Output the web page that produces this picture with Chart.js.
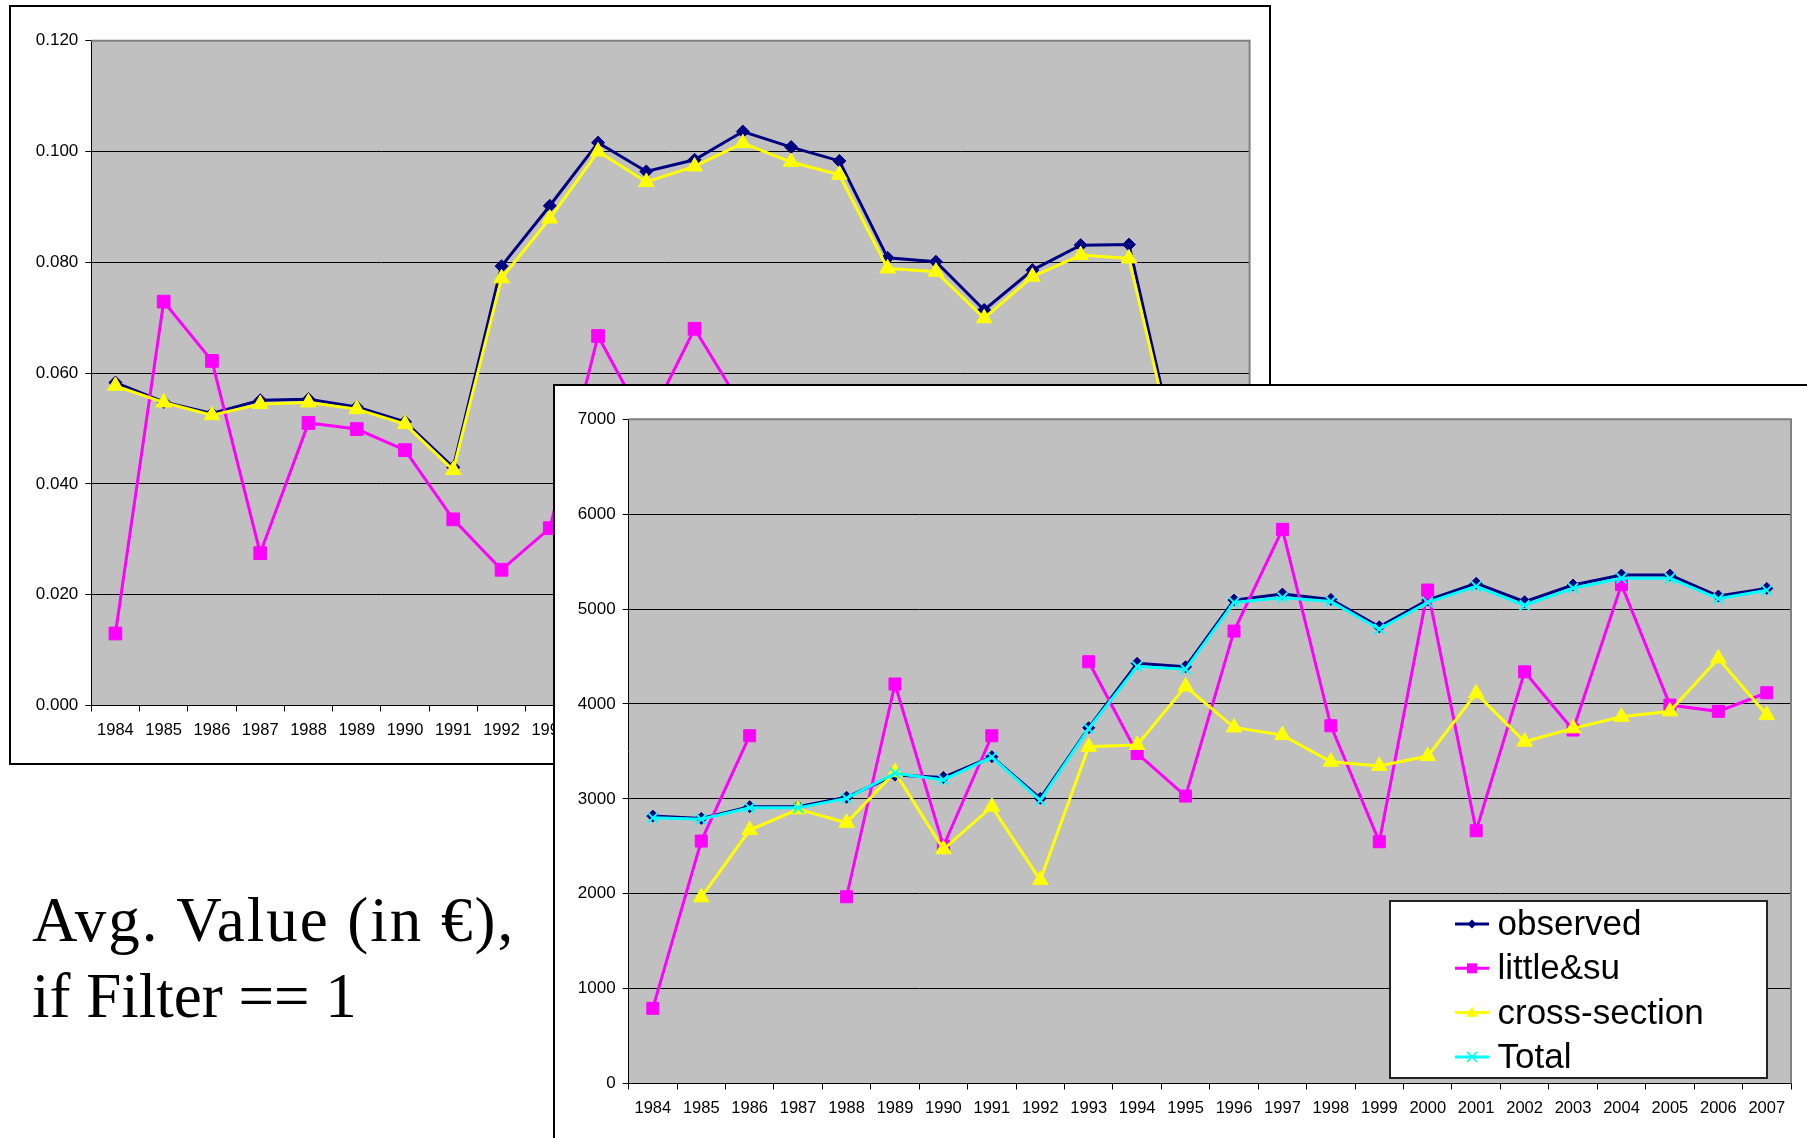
<!DOCTYPE html>
<html lang="en">
<head>
  <meta charset="UTF-8" />
  <title>Avg. Value (in €), if Filter == 1</title>
  <script src="https://cdn.jsdelivr.net/npm/chart.js@4"></script>
  <style>
    html, body { margin: 0; padding: 0; background: #fff; width: 1807px; height: 1138px; overflow: hidden; }
    .panel { position: absolute; background: #fff; }
    #backPanel { left: 9px; top: 5px; width: 1258px; height: 756px; border: 2px solid #000; z-index: 1; }
    #frontPanel { left: 553px; top: 384px; width: 1270px; height: 770px; border: 2px solid #000; z-index: 2; }
    canvas { display: block; }
    #caption {
      position: absolute; left: 32px; top: 882px; z-index: 0;
      font: 63px/76px "Liberation Serif", "Times New Roman", serif; color: #000; white-space: nowrap;
    }
    #caption .first { letter-spacing: 2px; }
  </style>
</head>
<body>

  <!-- back chart (share, 0.000 - 0.120) -->
  <div class="panel" id="backPanel"><canvas id="backChart" width="1258" height="756"></canvas></div>

  <!-- front chart (avg value, 0 - 7000) -->
  <div class="panel" id="frontPanel"><canvas id="frontChart" width="1270" height="770"></canvas></div>

  <div id="caption"><span class="first">Avg. Value (in €),</span><br>if Filter == 1</div>

  <script>
    const years = ['1984', '1985', '1986', '1987', '1988', '1989', '1990', '1991', '1992', '1993', '1994', '1995',
                   '1996', '1997', '1998', '1999', '2000', '2001', '2002', '2003', '2004', '2005', '2006', '2007'];

    // back chart, y axis 0 .. 0.12 (only the part not covered is readable)
    const backYMax = 0.12;
    const backYStep = 0.02;
    const backObserved = [0.0583, 0.0548, 0.0527, 0.0551, 0.0553, 0.0539, 0.0512, 0.0430, 0.0793, 0.0902, 0.1016, 0.0964,
                          0.0985, 0.1036, 0.1008, 0.0983, 0.0808, 0.0801, 0.0714, 0.0786, 0.0831, 0.0832, 0.0449, null];
    const backLittle = [0.0130, 0.0729, 0.0622, 0.0275, 0.0510, 0.0499, 0.0461, 0.0336, 0.0245, 0.0320, 0.0667, 0.0505,
                        0.0680, 0.0537, null, null, null, null, null, null, null, null, null, null];
    const backCross = [0.0577, 0.0547, 0.0524, 0.0544, 0.0547, 0.0535, 0.0508, 0.0425, 0.0771, 0.0879, 0.1000, 0.0945,
                       0.0973, 0.1015, 0.0981, 0.0958, 0.0789, 0.0783, 0.0699, 0.0774, 0.0813, 0.0807, 0.0437, null];

    // front chart, y axis 0 .. 7000
    const frontYMax = 7000;
    const frontYStep = 1000;
    const frontObserved = [2818, 2794, 2917, 2917, 3016, 3250, 3226, 3444, 3005, 3749, 4428, 4392,
                           5095, 5158, 5102, 4813, 5095, 5271, 5077, 5253, 5358, 5358, 5137, 5218];
    const frontLittle = [792, 2555, 3665, null, 1968, 4210, 2503, 3665, null, 4445, 3479, 3029,
                         4768, 5840, 3770, 2548, 5200, 2664, 4339, 3725, 5258, 3988, 3922, 4118];
    const frontCross = [null, 1962, 2671, 2889, 2748, 3280, 2468, 2917, 2144, 3549, 3567, 4183,
                        3753, 3672, 3391, 3346, 3451, 4112, 3602, 3743, 3865, 3922, 4480, 3883];
    const frontTotal = [2800, 2785, 2905, 2905, 3005, 3270, 3200, 3440, 2985, 3740, 4395, 4365,
                        5070, 5120, 5080, 4790, 5070, 5240, 5040, 5220, 5325, 5325, 5110, 5198];

    const NAVY = '#000080', MAGENTA = '#FF00FF', YELLOW = '#FFFF00', CYAN = '#00FFFF';
    const FONT = '"Liberation Sans", Arial, sans-serif';

    // one line series, excel style
    function series(label, data, color, style, radius, order) {
      return {
        label: label,
        data: data,
        borderColor: color,
        backgroundColor: color,
        borderWidth: 3,
        tension: 0,
        spanGaps: false,
        pointStyle: style,
        pointRadius: radius,
        pointHoverRadius: radius,
        pointBackgroundColor: color,
        pointBorderColor: color,
        pointBorderWidth: style === 'crossRot' ? 2 : 1,
        order: order // lower order is drawn on top
      };
    }

    // grey plot area + grey top/right edge
    const plotArea = {
      id: 'plotArea',
      beforeDraw(chart) {
        const { ctx, chartArea: a } = chart;
        ctx.save();
        ctx.fillStyle = '#C0C0C0';
        ctx.fillRect(a.left, a.top, a.right - a.left, a.bottom - a.top);
        ctx.restore();
      },
      beforeDatasetsDraw(chart) {
        const { ctx, chartArea: a } = chart;
        ctx.save();
        ctx.strokeStyle = '#808080';
        ctx.lineWidth = 2;
        ctx.beginPath();
        ctx.moveTo(a.left, a.top);
        ctx.lineTo(a.right, a.top);
        ctx.lineTo(a.right, a.bottom);
        ctx.stroke();
        ctx.restore();
      }
    };

    function drawMark(ctx, style, x, y, r, color) {
      ctx.save();
      ctx.fillStyle = color;
      ctx.strokeStyle = color;
      ctx.lineWidth = 1.5;
      ctx.beginPath();
      if (style === 'rectRot') {
        ctx.moveTo(x, y - r); ctx.lineTo(x + r, y); ctx.lineTo(x, y + r); ctx.lineTo(x - r, y);
        ctx.closePath(); ctx.fill();
      } else if (style === 'rect') {
        ctx.rect(x - r, y - r, 2 * r, 2 * r); ctx.fill();
      } else if (style === 'triangle') {
        ctx.moveTo(x, y - r); ctx.lineTo(x + r, y + r * 0.7); ctx.lineTo(x - r, y + r * 0.7);
        ctx.closePath(); ctx.fill();
      } else {
        ctx.moveTo(x - r, y - r); ctx.lineTo(x + r, y + r);
        ctx.moveTo(x + r, y - r); ctx.lineTo(x - r, y + r);
        ctx.stroke();
      }
      ctx.restore();
    }

    // legend box inside the plot, bottom right
    const boxLegend = {
      id: 'boxLegend',
      afterDraw(chart) {
        const { ctx, chartArea: a } = chart;
        const bx = a.right - 401, by = a.bottom - 182.5, bw = 377, bh = 177;
        ctx.save();
        ctx.fillStyle = '#fff';
        ctx.fillRect(bx, by, bw, bh);
        ctx.strokeStyle = '#222';
        ctx.lineWidth = 2;
        ctx.strokeRect(bx, by, bw, bh);
        ctx.font = '35px ' + FONT;
        ctx.textBaseline = 'alphabetic';
        const marks = { rectRot: 4.5, rect: 5, triangle: 6, crossRot: 5 };
        chart.data.datasets.forEach((ds, i) => {
          const base = by + 34 + i * 44.3;
          const ly = base - 11;
          ctx.strokeStyle = ds.borderColor;
          ctx.lineWidth = 3;
          ctx.beginPath();
          ctx.moveTo(bx + 65, ly);
          ctx.lineTo(bx + 99, ly);
          ctx.stroke();
          drawMark(ctx, ds.pointStyle, bx + 82, ly, marks[ds.pointStyle], ds.borderColor);
          ctx.fillStyle = '#000';
          ctx.fillText(ds.label, bx + 107.5, base);
        });
        ctx.restore();
      }
    };

    function axes(yMax, yStep, yWidth, xHeight, digits) {
      return {
        x: {
          offset: true,
          afterFit(scale) { scale.height = xHeight; },
          grid: { offset: true, drawOnChartArea: false, drawTicks: true, tickLength: 6, color: '#000' },
          border: { color: '#000', width: 1 },
          ticks: { color: '#000', padding: 9, maxRotation: 0, autoSkip: false, font: { family: FONT, size: 16.5 } }
        },
        y: {
          min: 0,
          max: yMax,
          afterFit(scale) { scale.width = yWidth; },
          grid: {
            color: (c) => (c.tick && Math.abs(c.tick.value - yMax) < 1e-9 ? '#808080' : '#000'),
            tickColor: '#000',
            tickLength: 6,
            lineWidth: 1
          },
          border: { color: '#000', width: 1 },
          ticks: {
            stepSize: yStep,
            color: '#000',
            padding: 7,
            font: { family: FONT, size: 17 },
            callback: (v) => Number(v).toFixed(digits)
          }
        }
      };
    }

    const common = {
      responsive: false,
      animation: false,
      events: [],
      plugins: { legend: { display: false }, tooltip: { enabled: false } }
    };

    new Chart(document.getElementById('backChart'), {
      type: 'line',
      data: {
        labels: years,
        datasets: [
          series('observed', backObserved, NAVY, 'rectRot', 6.5, 3),
          series('little&su', backLittle, MAGENTA, 'rect', 9, 2),
          series('cross-section', backCross, YELLOW, 'triangle', 9, 1)
        ]
      },
      options: Object.assign({}, common, {
        layout: { padding: { left: 0, top: 33.7, right: 19.4, bottom: 0 } },
        scales: axes(backYMax, backYStep, 80.3, 57.5, 3)
      }),
      plugins: [plotArea]
    });

    new Chart(document.getElementById('frontChart'), {
      type: 'line',
      data: {
        labels: years,
        datasets: [
          series('observed', frontObserved, NAVY, 'rectRot', 6, 3),
          series('little&su', frontLittle, MAGENTA, 'rect', 8.5, 2),
          series('cross-section', frontCross, YELLOW, 'triangle', 9, 1),
          series('Total', frontTotal, CYAN, 'crossRot', 7, 0)
        ]
      },
      options: Object.assign({}, common, {
        layout: { padding: { left: 0, top: 33.3, right: 34, bottom: 0 } },
        scales: axes(frontYMax, frontYStep, 73.6, 72.5, 0)
      }),
      plugins: [plotArea, boxLegend]
    });
  </script>
</body>
</html>
